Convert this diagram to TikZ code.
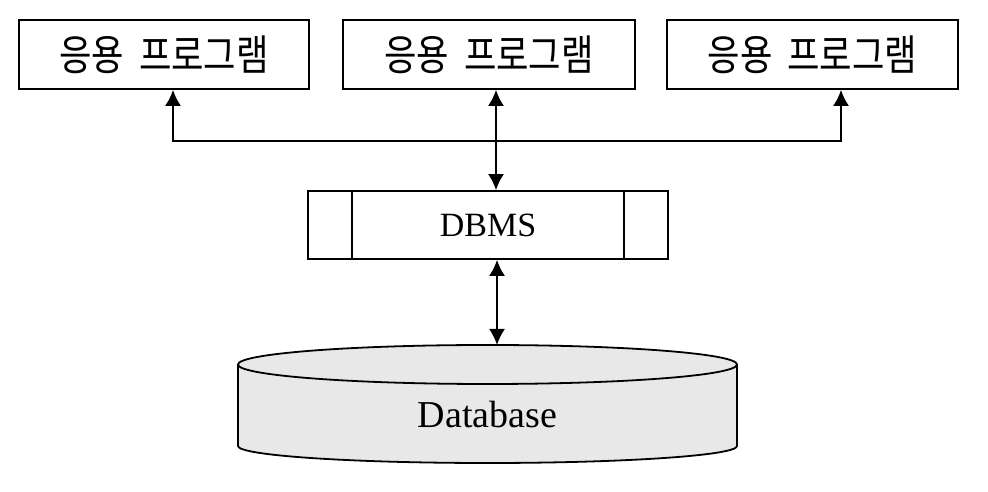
\documentclass[tikz,border=0pt]{standalone}
\usepackage{fontspec}
\setmainfont{Liberation Serif}
\newfontfamily\kr[FakeStretch=0.84,WordSpace=1.9]{Noto Sans CJK KR}
\usetikzlibrary{arrows.meta}
\begin{document}
\begin{tikzpicture}[x=1pt,y=1pt,line width=1.8pt,
  tip/.style={-{Latex[length=16pt,width=16pt]}},
  tips/.style={{Latex[length=16pt,width=16pt]}-{Latex[length=16pt,width=16pt]}},
  appbox/.style={draw,rectangle,minimum height=69pt,inner sep=0pt,font=\kr\fontsize{42}{46}\selectfont},
  dbmsbox/.style={draw,rectangle,minimum width=360pt,minimum height=68pt,inner sep=0pt,font=\fontsize{34}{36}\selectfont}]
\useasboundingbox (0,0) rectangle (988,492);
% application programs
\node [appbox,minimum width=290pt] (app1) at (164,437.5) {응용 프로그램};
\node [appbox,minimum width=292pt] (app2) at (489,437.5) {응용 프로그램};
\node [appbox,minimum width=291pt] (app3) at (812.5,437.5) {응용 프로그램};
\coordinate (hub) at (496,351);
\draw [tip] (hub) -| ([xshift=9pt]app1.south);
\draw [tip] (hub) -| ([xshift=28.5pt]app3.south);
% DBMS
\node [dbmsbox] (dbms) at (488,267) {DBMS};
\draw (dbms.north west) ++(45,0) -- ++(0,-68);
\draw (dbms.north east) ++(-45,0) -- ++(0,-68);
\draw [tips] ([xshift=8pt]dbms.north) -- ([xshift=7pt]app2.south);
% database
\fill [color=black!9] (238,127.5) -- (238,46) arc (180:360:249.5 and 17) -- (737,127.5) arc (0:180:249.5 and 19.5) -- cycle;
\draw (238,127.5) -- (238,46) arc (180:360:249.5 and 17) -- (737,127.5);
\draw (487.5,127.5) ellipse (249.5 and 19.5);
\node [font=\fontsize{38}{42}\selectfont] (db) at (487.5,77) {Database};
\coordinate (dbtop) at (497,147);
\draw [tips] ([xshift=9pt]dbms.south) -- (dbtop);
\end{tikzpicture}
\end{document}
